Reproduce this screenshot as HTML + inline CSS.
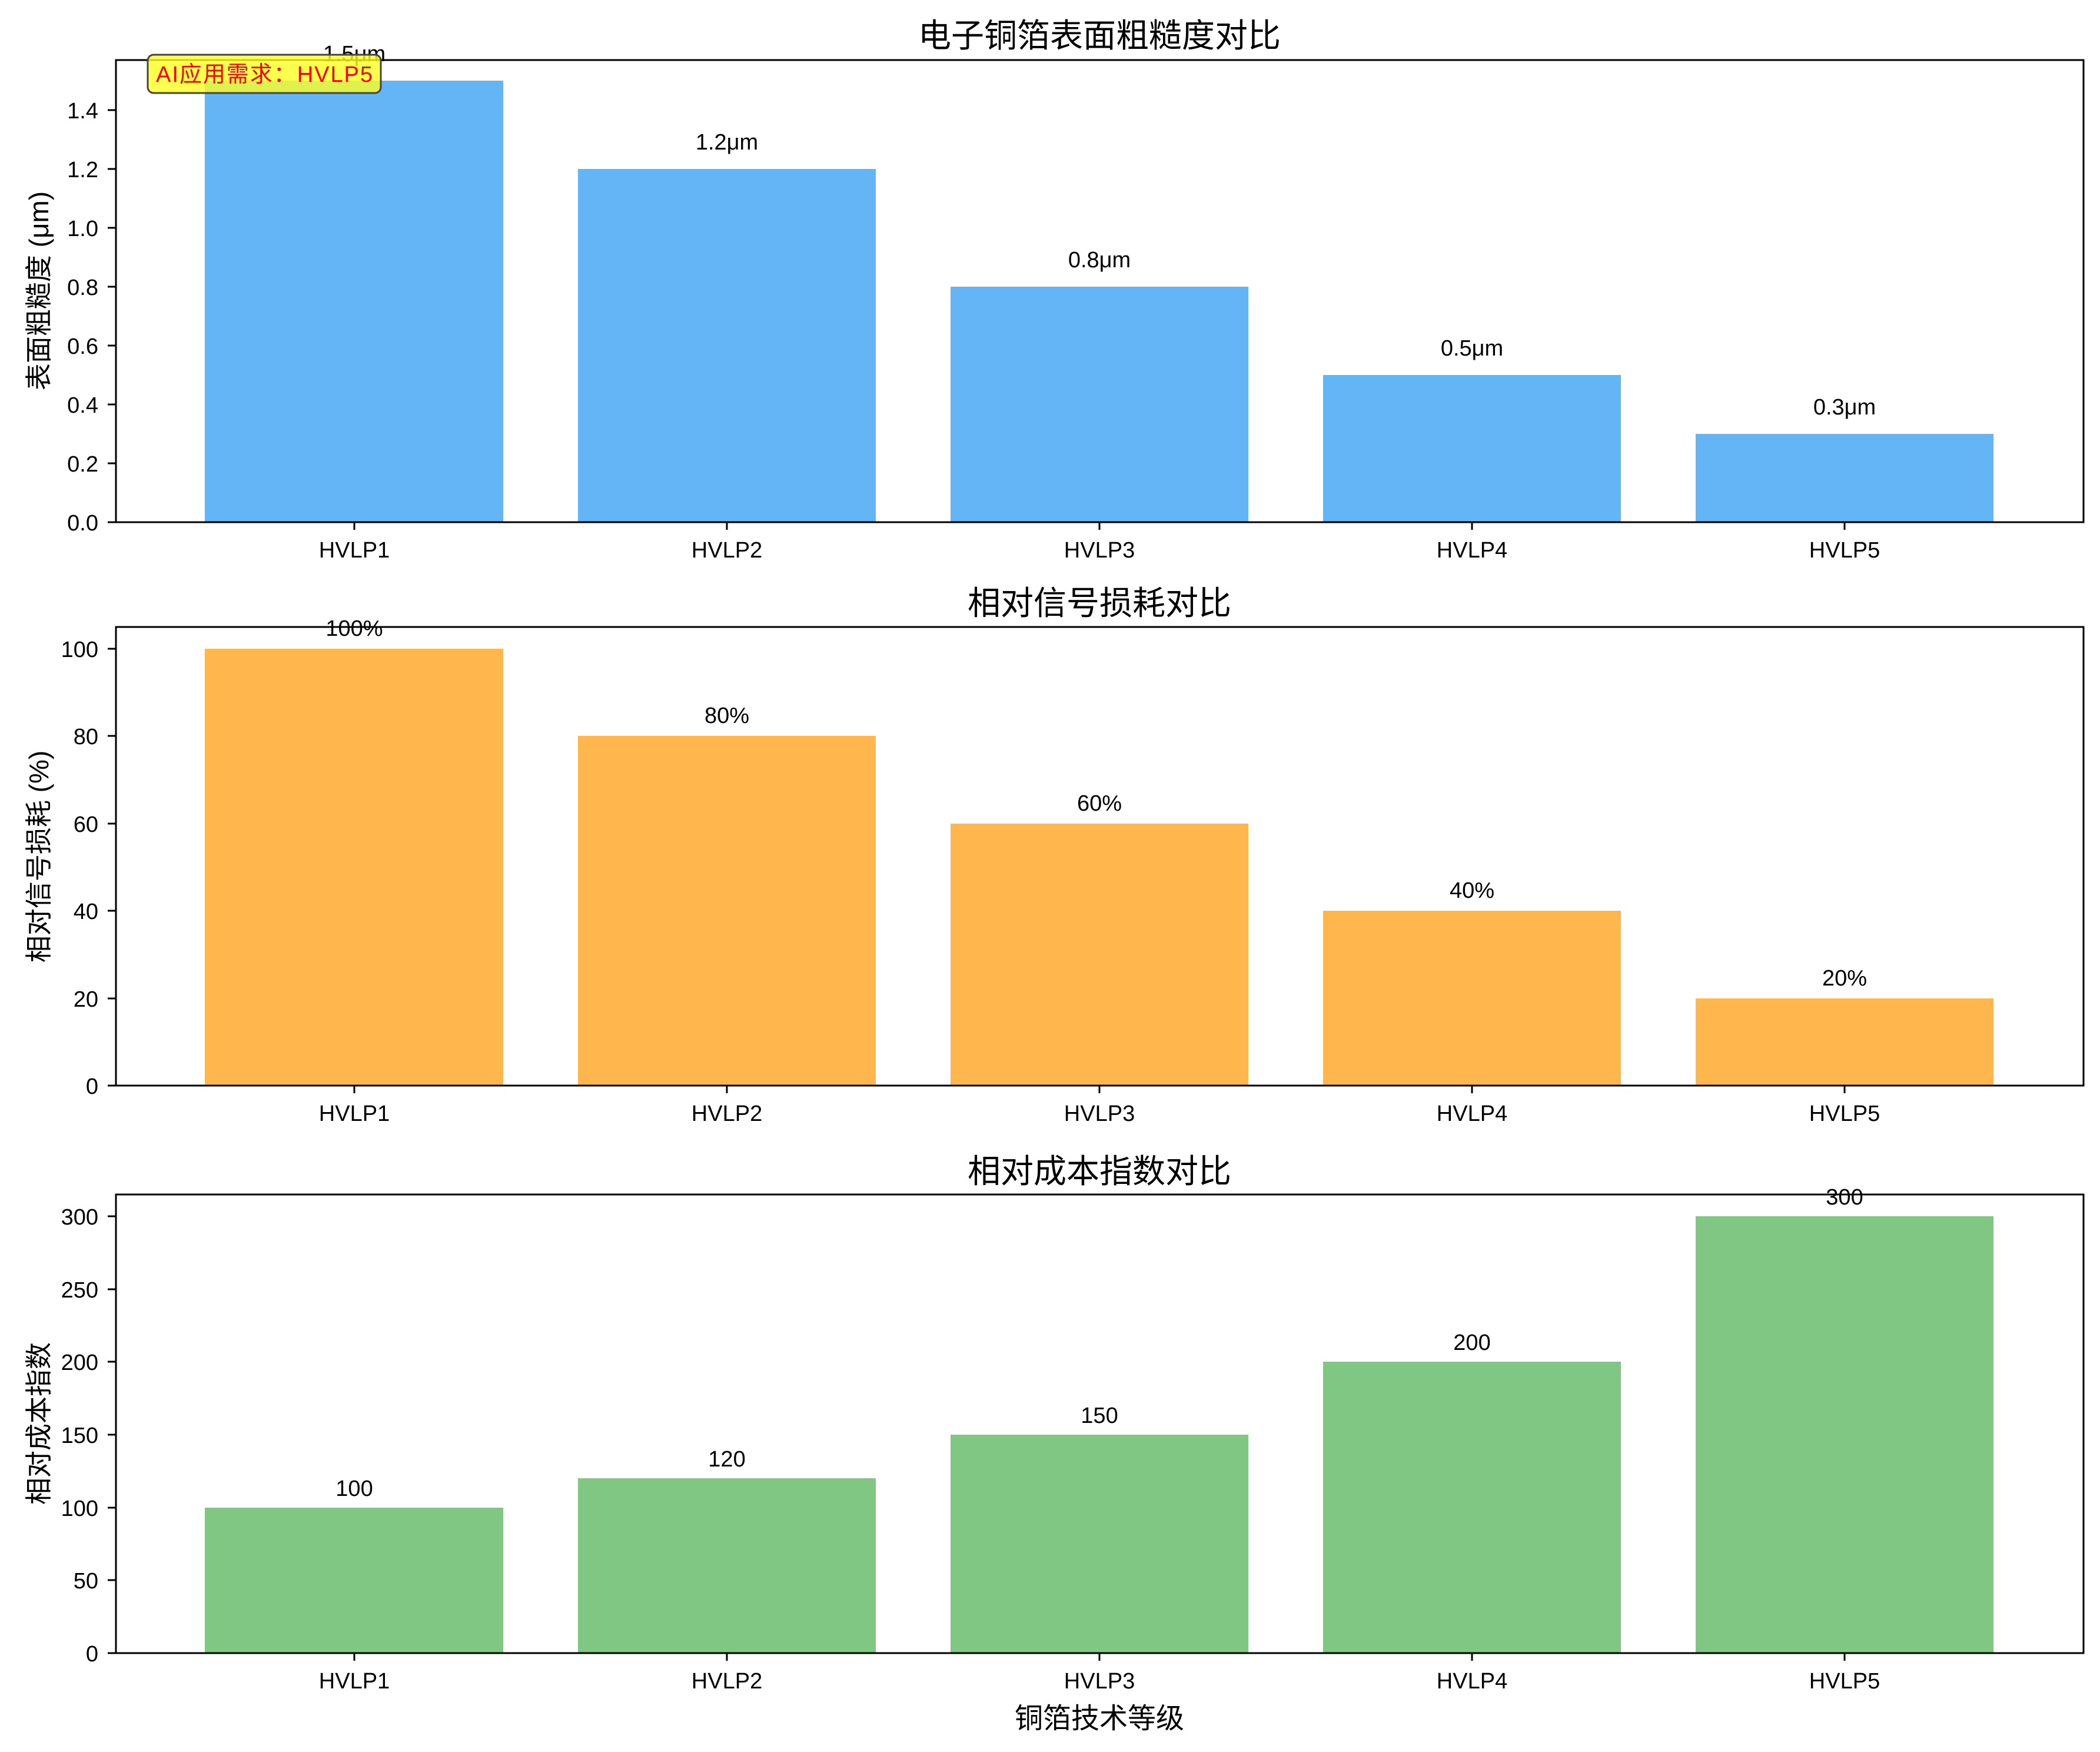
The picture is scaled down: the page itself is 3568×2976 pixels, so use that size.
<!DOCTYPE html>
<html><head><meta charset="utf-8"><style>
html,body{margin:0;padding:0;background:#fff}
svg text{font-family:"Liberation Sans","Noto Sans CJK SC",sans-serif;fill:#000}
</style></head><body>
<svg width="3568" height="2971" viewBox="0 0 3568 2971" xmlns="http://www.w3.org/2000/svg">
<rect width="3568" height="2971" fill="#fff"/>

<!-- Panel 1 -->
<g>
<rect x="348" y="137" width="507" height="750" fill="#64b5f6"/>
<rect x="982" y="287" width="506" height="600" fill="#64b5f6"/>
<rect x="1615" y="487" width="506" height="400" fill="#64b5f6"/>
<rect x="2248" y="637" width="506" height="250" fill="#64b5f6"/>
<rect x="2881" y="737" width="506" height="150" fill="#64b5f6"/>
<rect x="197" y="102" width="3343" height="785" fill="none" stroke="#000" stroke-width="3"/>
<g stroke="#000" stroke-width="3">
<line x1="183" x2="197" y1="887" y2="887"/><line x1="183" x2="197" y1="787" y2="787"/><line x1="183" x2="197" y1="687" y2="687"/><line x1="183" x2="197" y1="587" y2="587"/><line x1="183" x2="197" y1="487" y2="487"/><line x1="183" x2="197" y1="387" y2="387"/><line x1="183" x2="197" y1="287" y2="287"/><line x1="183" x2="197" y1="187" y2="187"/>
<line x1="602" x2="602" y1="887" y2="900"/><line x1="1235" x2="1235" y1="887" y2="900"/><line x1="1868" x2="1868" y1="887" y2="900"/><line x1="2501" x2="2501" y1="887" y2="900"/><line x1="3134" x2="3134" y1="887" y2="900"/>
</g>
<g font-size="38" text-anchor="end">
<text x="167" y="901">0.0</text><text x="167" y="801">0.2</text><text x="167" y="701">0.4</text><text x="167" y="601">0.6</text><text x="167" y="501">0.8</text><text x="167" y="401">1.0</text><text x="167" y="301">1.2</text><text x="167" y="201">1.4</text>
</g>
<g font-size="38" text-anchor="middle">
<text x="602" y="947">HVLP1</text><text x="1235" y="947">HVLP2</text><text x="1868" y="947">HVLP3</text><text x="2501" y="947">HVLP4</text><text x="3134" y="947">HVLP5</text>
<text x="602" y="104">1.5μm</text><text x="1235" y="254">1.2μm</text><text x="1868" y="454">0.8μm</text><text x="2501" y="604">0.5μm</text><text x="3134" y="704">0.3μm</text>
</g>
<text x="1868" y="80" font-size="56" text-anchor="middle">电子铜箔表面粗糙度对比</text>
<text transform="translate(82,494) rotate(-90)" font-size="46" text-anchor="middle">表面粗糙度 (μm)</text>
<rect x="251" y="93" width="396" height="65" rx="10" fill="#ffff22" fill-opacity="0.8" stroke="#444" stroke-width="3"/>
<text x="265" y="139" font-size="38" textLength="368" lengthAdjust="spacing" style="fill:#ff0000">AI应用需求：HVLP5</text>
</g>

<!-- Panel 2 -->
<g>
<rect x="348" y="1102" width="507" height="742" fill="#ffb74d"/>
<rect x="982" y="1250" width="506" height="594" fill="#ffb74d"/>
<rect x="1615" y="1399" width="506" height="445" fill="#ffb74d"/>
<rect x="2248" y="1547" width="506" height="297" fill="#ffb74d"/>
<rect x="2881" y="1696" width="506" height="148" fill="#ffb74d"/>
<rect x="197" y="1065" width="3343" height="779" fill="none" stroke="#000" stroke-width="3"/>
<g stroke="#000" stroke-width="3">
<line x1="183" x2="197" y1="1844" y2="1844"/><line x1="183" x2="197" y1="1696" y2="1696"/><line x1="183" x2="197" y1="1547" y2="1547"/><line x1="183" x2="197" y1="1399" y2="1399"/><line x1="183" x2="197" y1="1250" y2="1250"/><line x1="183" x2="197" y1="1102" y2="1102"/>
<line x1="602" x2="602" y1="1844" y2="1857"/><line x1="1235" x2="1235" y1="1844" y2="1857"/><line x1="1868" x2="1868" y1="1844" y2="1857"/><line x1="2501" x2="2501" y1="1844" y2="1857"/><line x1="3134" x2="3134" y1="1844" y2="1857"/>
</g>
<g font-size="38" text-anchor="end">
<text x="167" y="1858">0</text><text x="167" y="1710">20</text><text x="167" y="1561">40</text><text x="167" y="1413">60</text><text x="167" y="1264">80</text><text x="167" y="1116">100</text>
</g>
<g font-size="38" text-anchor="middle">
<text x="602" y="1904">HVLP1</text><text x="1235" y="1904">HVLP2</text><text x="1868" y="1904">HVLP3</text><text x="2501" y="1904">HVLP4</text><text x="3134" y="1904">HVLP5</text>
<text x="602" y="1080">100%</text><text x="1235" y="1228">80%</text><text x="1868" y="1377">60%</text><text x="2501" y="1525">40%</text><text x="3134" y="1674">20%</text>
</g>
<text x="1868" y="1044" font-size="56" text-anchor="middle">相对信号损耗对比</text>
<text transform="translate(82,1455) rotate(-90)" font-size="46" text-anchor="middle">相对信号损耗 (%)</text>
</g>

<!-- Panel 3 -->
<g>
<rect x="348" y="2561" width="507" height="247" fill="#81c784"/>
<rect x="982" y="2511" width="506" height="297" fill="#81c784"/>
<rect x="1615" y="2437" width="506" height="371" fill="#81c784"/>
<rect x="2248" y="2313" width="506" height="495" fill="#81c784"/>
<rect x="2881" y="2066" width="506" height="742" fill="#81c784"/>
<rect x="197" y="2029" width="3343" height="779" fill="none" stroke="#000" stroke-width="3"/>
<g stroke="#000" stroke-width="3">
<line x1="183" x2="197" y1="2808" y2="2808"/><line x1="183" x2="197" y1="2684" y2="2684"/><line x1="183" x2="197" y1="2561" y2="2561"/><line x1="183" x2="197" y1="2437" y2="2437"/><line x1="183" x2="197" y1="2313" y2="2313"/><line x1="183" x2="197" y1="2190" y2="2190"/><line x1="183" x2="197" y1="2066" y2="2066"/>
<line x1="602" x2="602" y1="2808" y2="2821"/><line x1="1235" x2="1235" y1="2808" y2="2821"/><line x1="1868" x2="1868" y1="2808" y2="2821"/><line x1="2501" x2="2501" y1="2808" y2="2821"/><line x1="3134" x2="3134" y1="2808" y2="2821"/>
</g>
<g font-size="38" text-anchor="end">
<text x="167" y="2822">0</text><text x="167" y="2698">50</text><text x="167" y="2575">100</text><text x="167" y="2451">150</text><text x="167" y="2327">200</text><text x="167" y="2204">250</text><text x="167" y="2080">300</text>
</g>
<g font-size="38" text-anchor="middle">
<text x="602" y="2868">HVLP1</text><text x="1235" y="2868">HVLP2</text><text x="1868" y="2868">HVLP3</text><text x="2501" y="2868">HVLP4</text><text x="3134" y="2868">HVLP5</text>
<text x="602" y="2541">100</text><text x="1235" y="2491">120</text><text x="1868" y="2417">150</text><text x="2501" y="2293">200</text><text x="3134" y="2046">300</text>
</g>
<text x="1868" y="2009" font-size="56" text-anchor="middle">相对成本指数对比</text>
<text transform="translate(82,2418) rotate(-90)" font-size="46" text-anchor="middle">相对成本指数</text>
<text x="1868" y="2935" font-size="48" text-anchor="middle">铜箔技术等级</text>
</g>
</svg>
</body></html>
